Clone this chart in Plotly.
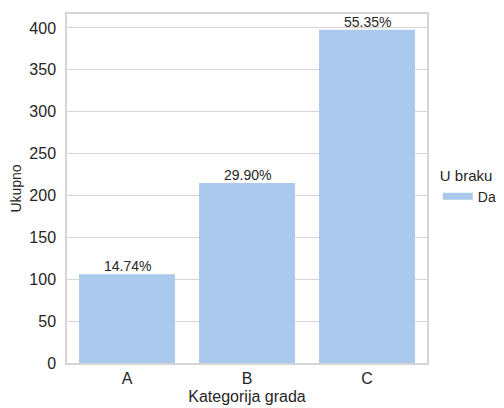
import plotly.graph_objects as go

categories = ["A", "B", "C"]
counts = [106, 215, 398]
total = sum(counts)
percent_labels = [f"{c / total * 100:.2f}%" for c in counts]

bar_color = "#abc9ed"
text_color = "#262626"
grid_color = "#d5d5d5"

fig = go.Figure()
fig.add_trace(go.Bar(
    x=categories, y=counts, width=0.8,
    marker=dict(color=bar_color, line=dict(width=0)),
    showlegend=False, hoverinfo="x+y",
))
fig.add_trace(go.Scatter(
    x=[None], y=[None], mode="lines", name="Da",
    line=dict(color=bar_color, width=7), showlegend=True,
))
for cat, val, lab in zip(categories, counts, percent_labels):
    fig.add_annotation(
        x=cat, y=val, text=lab, showarrow=False,
        yanchor="bottom", yshift=-2,
        font=dict(size=14, color=text_color),
    )

fig.update_layout(
    width=504, height=408,
    margin=dict(l=67, r=77, t=14, b=45, autoexpand=False),
    paper_bgcolor="white", plot_bgcolor="white",
    font=dict(family="Liberation Sans, Arial, sans-serif", color=text_color, size=14),
    bargap=0.2,
    legend=dict(
        title=dict(text="U braku", font=dict(size=15, color=text_color)),
        x=1.03, xanchor="left", y=0.505, yanchor="middle",
        font=dict(size=14, color=text_color),
        bgcolor="rgba(0,0,0,0)",
    ),
    xaxis=dict(
        range=[-0.5, 2.5], showgrid=False, showline=True, mirror=True,
        linecolor=grid_color, linewidth=1.5,
        tickfont=dict(size=16, color=text_color),
        title=dict(text="Kategorija grada", font=dict(size=16, color=text_color), standoff=5),
        ticks="", zeroline=False,
    ),
    yaxis=dict(
        range=[0, 416.7], showgrid=True, gridcolor=grid_color, gridwidth=1,
        showline=True, mirror=True, linecolor=grid_color, linewidth=1.5,
        tickvals=[0, 50, 100, 150, 200, 250, 300, 350, 400],
        tickfont=dict(size=16, color=text_color),
        ticklabelstandoff=6,
        title=dict(text="Ukupno", font=dict(size=14, color=text_color), standoff=4),
        zeroline=False, ticks="",
    ),
)

fig.write_html("out.html", config={"displayModeBar": False},
               post_script="document.body.style.margin='0';")
